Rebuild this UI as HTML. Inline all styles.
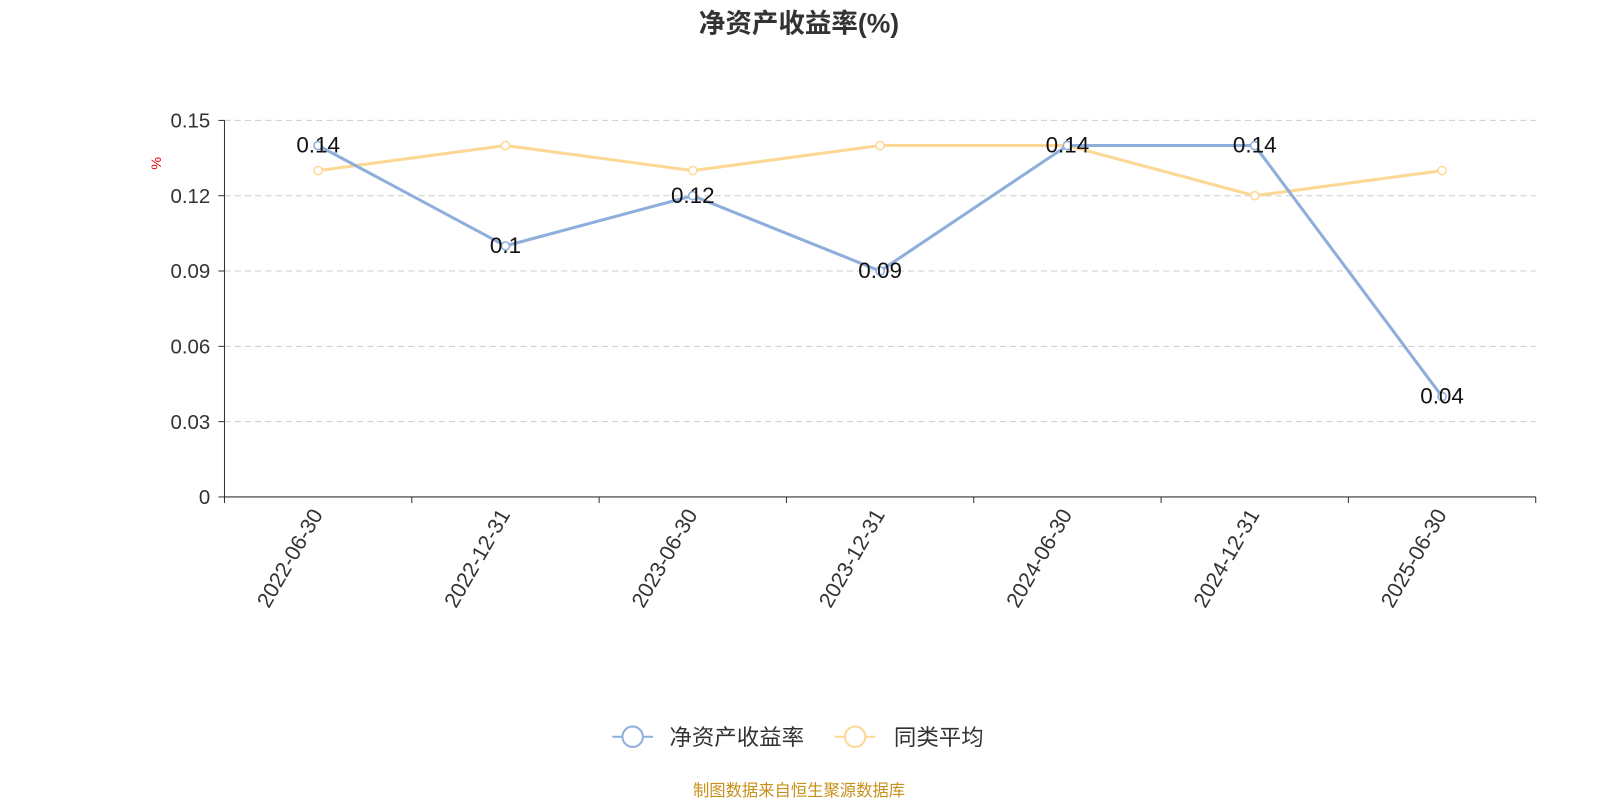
<!DOCTYPE html>
<html><head><meta charset="utf-8"><style>
body{margin:0;background:#fff;}
svg{display:block;font-family:"Liberation Sans","Noto Sans CJK SC",sans-serif;}
</style></head><body>
<svg id="c" width="1600" height="800" viewBox="0 0 1568 784">
<text x="783" y="32" text-anchor="middle" font-size="26" font-weight="bold" fill="#333">净资产收益率(%)</text>
<text x="158" y="160" font-size="14" fill="#e00" transform="rotate(-90 158 160)" text-anchor="middle">%</text>
<g id="grid"></g><g id="axes"></g><g id="series"></g>
<g>
<g>
<line x1="600" y1="722" x2="640" y2="722" stroke="#8eaedb" stroke-width="2"/>
<circle cx="620" cy="722" r="10" fill="#fff" stroke="#8eaedb" stroke-width="2"/>
<text x="656" y="730" font-size="22" fill="#333">净资产收益率</text></g>
<g>
<line x1="818" y1="722" x2="858" y2="722" stroke="#fcd894" stroke-width="2"/>
<circle cx="838" cy="722" r="10" fill="#fff" stroke="#fcd894" stroke-width="2"/>
<text x="876" y="730" font-size="22" fill="#333">同类平均</text></g>
</g>
<text x="783" y="780" text-anchor="middle" font-size="16" fill="#c8901a">制图数据来自恒生聚源数据库</text>
</svg>
<script>
const categories=["2022-06-30","2022-12-31","2023-06-30","2023-12-31","2024-06-30","2024-12-31","2025-06-30"];
const roeValues=[0.14,0.1,0.12,0.09,0.14,0.14,0.04];
const avgValues=[0.13,0.14,0.13,0.14,0.14,0.12,0.13];
const yTicks=[0,0.03,0.06,0.09,0.12,0.15];
const roeLabels=["0.14","0.1","0.12","0.09","0.14","0.14","0.04"];
const NS="http://www.w3.org/2000/svg";
const L=220,R=1505,T=118,B=487,yMax=0.15;
const cw=(R-L)/categories.length;
const xs=i=>L+cw*(i+0.5);
const ys=v=>B-(v/yMax)*(B-T);
function mk(tag,attrs,parent){const e=document.createElementNS(NS,tag);for(const k in attrs)e.setAttribute(k,attrs[k]);parent.appendChild(e);return e;}
const grid=document.getElementById('grid'),axes=document.getElementById('axes'),ser=document.getElementById('series');
yTicks.forEach(t=>{
 const y=ys(t);
 if(t>0){const g=mk('line',{x1:L,x2:R,y1:y,y2:y,stroke:'#ccc','stroke-dasharray':'6,4'},grid);
 
 }
 mk('line',{x1:L-6,x2:L,y1:y,y2:y,stroke:'#333'},axes);
 const tx=mk('text',{x:L-14,y:y+7,'text-anchor':'end','font-size':20,fill:'#333'},axes);
 tx.textContent=String(t);
 
 
});
const ya=mk('line',{x1:L,x2:L,y1:T,y2:B,stroke:'#333'},axes);


const xa=mk('line',{x1:L,x2:R,y1:B,y2:B,stroke:'#333'},axes);


for(let i=0;i<=categories.length;i++){const x=L+cw*i;mk('line',{x1:x,x2:x,y1:B,y2:B+6,stroke:'#333'},axes);}
categories.forEach((c,i)=>{
 const x=xs(i),y=B+14;
 const t=mk('text',{x:x,y:y+6,'text-anchor':'end','font-size':21,fill:'#333',transform:`rotate(-60 ${x} ${y})`},axes);
 t.textContent=c;
 
 
});
function series(vals,color,name){
 const p=mk('polyline',{points:vals.map((v,i)=>xs(i)+','+ys(v)).join(' '),fill:'none',stroke:color,'stroke-width':3},ser);
 
 
 vals.forEach((v,i)=>{const c=mk('circle',{cx:xs(i),cy:ys(v),r:4,fill:'#fff',stroke:color,'stroke-width':1.5},ser);
 
 });
}
series(avgValues,'#fcd894','peer-average');
series(roeValues,'#8eaedb','roe');
roeValues.forEach((v,i)=>{
 const t=mk('text',{x:xs(i),y:ys(v)+7,'text-anchor':'middle','font-size':22,fill:'#111'},ser);
 t.textContent=roeLabels[i];
 
 
});
</script>
</body></html>
